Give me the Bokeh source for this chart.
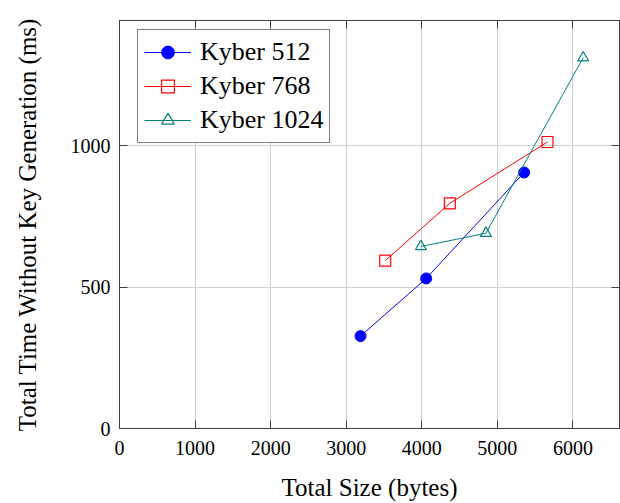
from bokeh.plotting import figure
from bokeh.models import Legend, LegendItem, FixedTicker, LinearAxis, Range1d
from bokeh.embed import file_html
from bokeh.resources import INLINE

# Data
series_names = ["Kyber 512", "Kyber 768", "Kyber 1024"]
size_512 = [3189, 4058, 5354]
time_512 = [327, 531, 906]
size_768 = [3516, 4371, 5663]
time_768 = [594, 797, 1014]
size_1024 = [3988, 4848, 6135]
time_1024 = [644, 691, 1312]
x_ticks = [0, 1000, 2000, 3000, 4000, 5000, 6000]
y_ticks = [0, 500, 1000]

FONT = "Liberation Serif"
AX = "#404040"

p = figure(width=620, height=503, output_backend="svg", toolbar_location=None,
           x_range=Range1d(0, 6616), y_range=Range1d(0, 1444),
           min_border_left=119, min_border_right=1, min_border_top=20,
           min_border_bottom=73)
p.outline_line_color = AX
p.outline_line_width = 1
p.background_fill_color = "white"
p.border_fill_color = "white"

for g in (p.xgrid, p.ygrid):
    g.grid_line_color = "#cfcfcf"
    g.grid_line_width = 1
p.xgrid.ticker = FixedTicker(ticks=x_ticks)
p.ygrid.ticker = FixedTicker(ticks=y_ticks)

def style_axis(ax, ticks, show_labels=True):
    ax.ticker = FixedTicker(ticks=ticks)
    ax.major_tick_in = 8
    ax.major_tick_out = 0
    ax.minor_tick_line_color = None
    ax.major_tick_line_color = AX
    ax.axis_line_color = AX
    ax.major_label_text_font = FONT
    ax.major_label_text_font_size = "20px"
    ax.major_label_text_color = "black"
    ax.axis_label_text_font = FONT
    ax.axis_label_text_font_size = "25px"
    ax.axis_label_text_font_style = "normal"
    ax.axis_label_text_color = "black"
    if not show_labels:
        ax.major_label_text_color = None
        ax.major_label_text_font_size = "0px"
        ax.major_label_standoff = 0

style_axis(p.xaxis[0], x_ticks)
style_axis(p.yaxis[0], y_ticks)
p.xaxis[0].axis_label = "Total Size (bytes)"
p.yaxis[0].axis_label = "Total Time Without Key Generation (ms)"
p.xaxis[0].major_label_standoff = 12
p.xaxis[0].axis_label_standoff = 16
p.yaxis[0].major_label_standoff = 9
p.yaxis[0].axis_label_standoff = 27

top_ax = LinearAxis()
style_axis(top_ax, x_ticks, show_labels=False)
p.add_layout(top_ax, "above")
right_ax = LinearAxis()
style_axis(right_ax, y_ticks, show_labels=False)
p.add_layout(right_ax, "right")

l1 = p.line(size_512, time_512, line_color="#0000ff", line_width=1)
m1 = p.scatter(size_512, time_512, marker="circle", size=11,
               fill_color="#0000ff", line_color="#0000ff")
l2 = p.line(size_768, time_768, line_color="#ff0000", line_width=1)
m2 = p.scatter(size_768, time_768, marker="square", size=11,
               fill_color=None, line_color="#ff0000", line_width=1.2)
l3 = p.line(size_1024, time_1024, line_color="#008080", line_width=1)
m3 = p.scatter(size_1024, time_1024, marker="triangle", size=11,
               fill_color=None, line_color="#008080", line_width=1.2)

legend = Legend(items=[
    LegendItem(label=series_names[0], renderers=[l1, m1]),
    LegendItem(label=series_names[1], renderers=[l2, m2]),
    LegendItem(label=series_names[2], renderers=[l3, m3]),
], location=(18, 285))
legend.label_text_font = FONT
legend.label_text_font_size = "26px"
legend.label_text_color = "black"
legend.padding = 6
legend.spacing = 2
legend.glyph_width = 47
legend.glyph_height = 32
legend.label_height = 32
legend.label_standoff = 9
legend.margin = 0
legend.border_line_color = "black"
legend.border_line_width = 1
legend.background_fill_color = "white"
legend.background_fill_alpha = 1
p.add_layout(legend, "center")

open("out.html", "w").write(file_html(p, INLINE))
